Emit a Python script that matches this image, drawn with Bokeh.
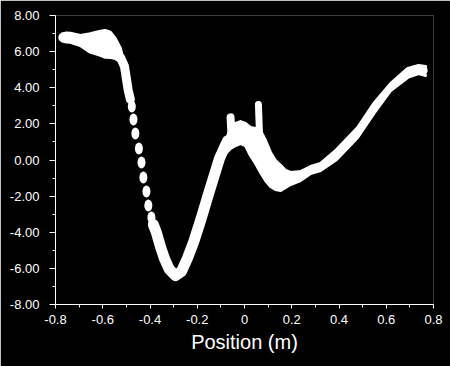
from bokeh.plotting import figure
from bokeh.models import FixedTicker, Range1d
from bokeh.embed import file_html
from bokeh.resources import INLINE

# ---- data ----
# left blob (upper / lower edge of the band)
blob_x  = [-0.771, -0.754, -0.737, -0.695, -0.653, -0.610, -0.589, -0.568, -0.547, -0.525, -0.513]
blob_hi = [6.98, 7.03, 7.02, 6.89, 6.99, 7.13, 7.17, 7.08, 6.73, 6.17, 5.51]
blob_lo = [6.58, 6.53, 6.52, 6.34, 5.97, 5.79, 5.69, 5.68, 5.62, 5.42, 5.14]

# narrow descent below the blob
desc_x = [-0.525, -0.508, -0.500, -0.492, -0.483]
desc_y = [5.68, 5.18, 4.51, 3.85, 3.35]

# separated dots of the steep descent
dots_x = [-0.477, -0.470, -0.462, -0.447, -0.436, -0.428, -0.415, -0.407, -0.394]
dots_y = [2.96, 2.24, 1.47, 0.64, -0.14, -0.97, -1.74, -2.52, -3.18]

# the V-shaped valley (centre of the band)
v_x = [-0.386, -0.373, -0.356, -0.339, -0.318, -0.292, -0.267, -0.242, -0.216, -0.186, -0.157, -0.131, -0.106, -0.081, -0.072]
v_y = [-3.57, -4.01, -4.79, -5.45, -6.06, -6.40, -6.17, -5.45, -4.57, -3.35, -2.08, -0.97, 0.08, 0.80, 1.05]

# hump, dip and final rise (upper / lower edge of the band)
band_x  = [-0.076, -0.059, -0.038, -0.017, 0.004, 0.025, 0.047, 0.068, 0.089, 0.110, 0.131, 0.153, 0.174, 0.195, 0.237, 0.280, 0.322, 0.390, 0.479, 0.547, 0.619, 0.691, 0.737, 0.767]
band_hi = [1.19, 1.74, 2.02, 2.13, 2.02, 1.80, 1.74, 1.63, 1.08, 0.42, -0.03, -0.30, -0.58, -0.69, -0.64, -0.36, -0.19, 0.58, 1.80, 3.13, 4.24, 5.07, 5.23, 5.18]
band_lo = [0.42, 0.64, 0.80, 0.91, 0.80, 0.25, -0.19, -0.69, -1.14, -1.47, -1.63, -1.69, -1.52, -1.36, -1.14, -0.75, -0.58, 0.03, 1.25, 2.57, 3.85, 4.57, 4.79, 4.68]

# two narrow spikes
spike1_x = [-0.059, -0.055]
spike1_y = [2.36, 1.40]
spike2_x = [0.059, 0.063]
spike2_y = [3.07, 1.60]

# end caps
cap_x = [-0.767, 0.754]
cap_y = [6.78, 4.96]

# axes
x_ticks = [-0.8, -0.6, -0.4, -0.2, 0.0, 0.2, 0.4, 0.6, 0.8]
x_labels = ["-0.8", "-0.6", "-0.4", "-0.2", "0", "0.2", "0.4", "0.6", "0.8"]
x_minor = [-0.7, -0.5, -0.3, -0.1, 0.1, 0.3, 0.5, 0.7]
y_ticks = [-8, -6, -4, -2, 0, 2, 4, 6, 8]
y_labels = ["-8.00", "-6.00", "-4.00", "-2.00", "0.00", "2.00", "4.00", "6.00", "8.00"]
y_minor = [-7, -5, -3, -1, 1, 3, 5, 7]

W = "white"
p = figure(width=450, height=366, output_backend="svg", toolbar_location=None,
           x_range=Range1d(-0.8, 0.8), y_range=Range1d(-8, 8),
           frame_width=378, frame_height=289,
           min_border_left=55, min_border_right=17, min_border_top=15, min_border_bottom=62,
           background_fill_color="black", border_fill_color="black")
p.outline_line_color = None
p.grid.visible = False

p.varea(x=blob_x, y1=blob_lo, y2=blob_hi, fill_color=W)
p.line(blob_x, blob_hi, line_color=W, line_width=3, line_join="round", line_cap="round")
p.line(blob_x, blob_lo, line_color=W, line_width=3, line_join="round", line_cap="round")
p.line(desc_x, desc_y, line_color=W, line_width=9, line_join="round", line_cap="round")
p.ellipse(x=dots_x, y=dots_y, width=8, height=12, width_units="screen", height_units="screen",
          fill_color=W, line_color=None)
p.line(v_x, v_y, line_color=W, line_width=11, line_join="round", line_cap="round")
p.varea(x=band_x, y1=band_lo, y2=band_hi, fill_color=W)
p.line(band_x, band_hi, line_color=W, line_width=3, line_join="round", line_cap="round")
p.line(band_x, band_lo, line_color=W, line_width=3, line_join="round", line_cap="round")
p.line(spike1_x, spike1_y, line_color=W, line_width=8, line_cap="round")
p.line(spike2_x, spike2_y, line_color=W, line_width=7, line_cap="round")
p.scatter(cap_x, cap_y, size=10, fill_color=W, line_color=None)

xa = p.xaxis[0]
xa.ticker = FixedTicker(ticks=x_ticks, minor_ticks=x_minor)
xa.major_label_overrides = {t: l for t, l in zip(x_ticks, x_labels)}
xa.axis_label = "Position (m)"
ya = p.yaxis[0]
ya.ticker = FixedTicker(ticks=y_ticks, minor_ticks=y_minor)
ya.major_label_overrides = {t: l for t, l in zip(y_ticks, y_labels)}

for ax in (xa, ya):
    ax.axis_line_color = W
    ax.major_tick_line_color = W
    ax.minor_tick_line_color = W
    ax.major_label_text_color = W
    ax.major_label_text_font = "Liberation Sans"
    ax.major_label_text_font_size = "13px"
    ax.minor_tick_in = 0
    ax.major_tick_in = 0
xa.major_tick_out = 4
xa.minor_tick_out = 3
xa.major_label_standoff = 6
xa.axis_label_text_color = W
xa.axis_label_text_font = "Liberation Sans"
xa.axis_label_text_font_size = "20px"
xa.axis_label_text_font_style = "normal"
xa.axis_label_standoff = 4
ya.major_tick_out = 6
ya.minor_tick_out = 3
ya.major_label_standoff = 10

open("out.html", "w").write(file_html(p, INLINE))
